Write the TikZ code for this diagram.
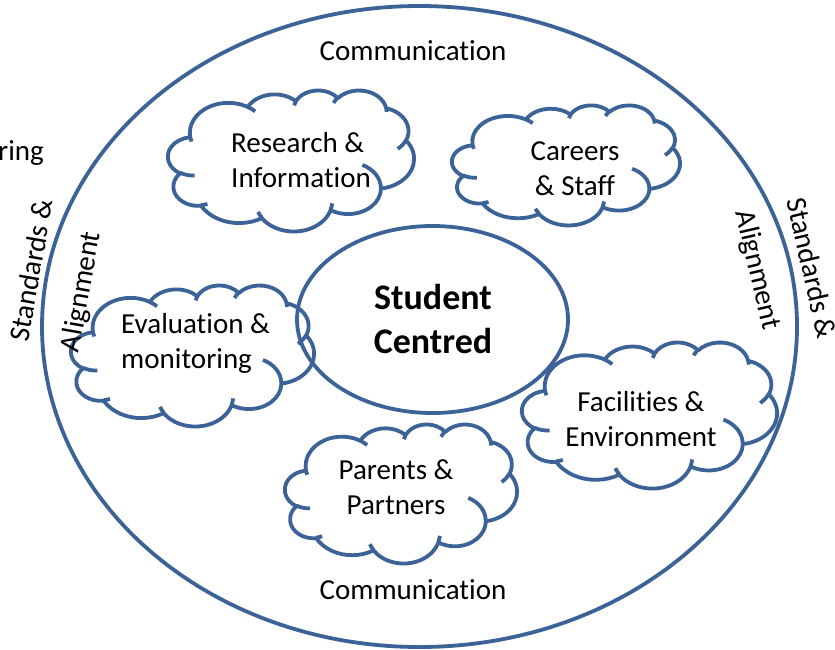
\documentclass[tikz,border=0pt]{standalone}
\usepackage{fontspec}
\setmainfont[Ligatures={NoCommon}]{Carlito}
\usetikzlibrary{shapes.geometric}
\definecolor{edge}{HTML}{3B6397}

% convert an OOXML arcTo (visual angles) into parametric start/end angles
\newcommand\mkarc[5]{%
  \pgfmathsetmacro\cldA{atan2((#2)*sin(#4),(#3)*cos(#4))}%
  \pgfmathsetmacro\cldB{atan2((#2)*sin((#4)+(#5)),(#3)*cos((#4)+(#5)))}%
  \pgfmathsetmacro\cldD{Mod((\cldB)-(\cldA)-(#5)+540,360)-180+(#5)}%
  \pgfmathsetmacro\cldT{(\cldA)+(\cldD)}%
  \expandafter\xdef\csname cldS#1\endcsname{\cldA}%
  \expandafter\xdef\csname cldE#1\endcsname{\cldT}%
}
\newcommand\cldarc[3]{arc[start angle=\csname cldS#1\endcsname, end angle=\csname cldE#1\endcsname, x radius=#2, y radius=#3] }

\tikzset{
  cloudline/.style={draw=edge, line width=3.8pt, line join=round},
  lbl/.style={font=\fontsize{29}{35}\selectfont, align=center, inner sep=0pt},
  lbll/.style={font=\fontsize{29}{35}\selectfont, align=left, inner sep=0pt, anchor=west},
  boldlbl/.style={font=\fontsize{36}{44}\selectfont\bfseries, align=center, inner sep=0pt},
  ring/.style={draw=edge, line width=3.8pt, ellipse, inner sep=0pt}
}
\newcommand\cloudat[4]{%
  \begin{scope}[shift={(#1,#2)}, x=#3pt, y=-#4pt]
    \draw[cloudline] \cloudpath;
  \end{scope}}

\begin{document}
\begin{tikzpicture}[x=1pt, y=-1pt]
% outline arcs
\mkarc{1}{6.753}{9.19}{-190.4874833}{123.7805333}
\mkarc{2}{5.333}{7.267}{-144.1023833}{89.9452333}
\mkarc{3}{4.365}{5.945}{-145.8079167}{99.7230167}
\mkarc{4}{4.857}{6.595}{-130.9860667}{117.2417333}
\mkarc{5}{5.333}{7.273}{-78.7088833}{109.0269167}
\mkarc{6}{6.775}{9.22}{-46.26725}{130.269}
\mkarc{7}{5.785}{7.867}{0.6250167}{114.0333333}
\mkarc{8}{6.752}{9.215}{22.4516}{115.17255}
\mkarc{9}{7.72}{10.543}{66.2426333}{75.7110167}
\mkarc{10}{4.36}{5.918}{-274.9420833}{146.7355667}
\mkarc{11}{4.345}{5.945}{-246.8285}{152.51885}
% inner arcs
\mkarc{12}{4.345}{5.945}{86.742}{26.4295}
\mkarc{13}{4.36}{5.918}{73.61047}{11.44747}
\mkarc{14}{6.752}{9.215}{137.62415}{14.0811}
\mkarc{15}{6.752}{9.215}{6.45327}{15.99835}
\mkarc{16}{5.785}{7.867}{-70.29235}{70.91737}
\mkarc{17}{5.333}{7.273}{30.31803}{27.7515}
\mkarc{18}{4.857}{6.595}{-13.74433}{14.8589}
\mkarc{19}{4.857}{6.595}{-149.18145}{18.19537}
\mkarc{20}{4.365}{5.945}{-163.49427}{17.68635}
\mkarc{21}{6.753}{9.19}{-66.70695}{12.31935}
\mkarc{22}{6.753}{9.19}{157.65435}{11.85817}
\xdef\cloudpath{(3.9,14.37) \cldarc{1}{6.753}{9.19}\cldarc{2}{5.333}{7.267}\cldarc{3}{4.365}{5.945}\cldarc{4}{4.857}{6.595}\cldarc{5}{5.333}{7.273}\cldarc{6}{6.775}{9.22}\cldarc{7}{5.785}{7.867}\cldarc{8}{6.752}{9.215}\cldarc{9}{7.72}{10.543}\cldarc{10}{4.36}{5.918}\cldarc{11}{4.345}{5.945} -- cycle
 (4.693,26.177) \cldarc{12}{4.345}{5.945}
 (6.928,34.899) \cldarc{13}{4.36}{5.918}
 (16.478,39.09) \cldarc{14}{6.752}{9.215}
 (28.827,34.751) \cldarc{15}{6.752}{9.215}
 (34.129,22.954) \cldarc{16}{5.785}{7.867}
 (41.798,15.354) \cldarc{17}{5.333}{7.273}
 (38.324,5.426) \cldarc{18}{4.857}{6.595}
 (29.078,3.952) \cldarc{19}{4.857}{6.595}
 (22.141,4.72) \cldarc{20}{4.365}{5.945}
 (14,5.192) \cldarc{21}{6.753}{9.19}
 (4.127,15.789) \cldarc{22}{6.753}{9.19}}

\useasboundingbox (0,0) rectangle (835,649);
\fill[white] (0,0) rectangle (835,649);

% outer ring and centre
\node[ring, minimum width=755pt, minimum height=641pt] (outer) at (419.5,326.5) {};
\node[ring, minimum width=271pt, minimum height=187pt] (core) at (432.5,319.5) {};
\node[boldlbl] (coretext) at (433,318.5) {Student\\Centred};

% clouds
\cloudat{168}{90}{5.694}{3.264}
\cloudat{452}{105}{5.278}{2.778}
\cloudat{71}{285}{5.625}{3.264}
\cloudat{522}{342}{5.903}{3.380}
\cloudat{285}{424}{5.370}{3.218}

\node[lbll] (research) at (231,160.5) {Research \&\\Information};
\node[lbl] (careers) at (575,169) {Careers\\\& Staff};
\node[lbll] (evaluation) at (121,343.5) {Evaluation \&\\monitoring};
\node[lbl] (facilities) at (641,419.5) {Facilities \&\\Environment};
\node[lbl] (parents) at (396,487) {Parents \&\\Partners};

% ring texts
\node[lbl, anchor=base] (commtop) at (413,60) {Communication};
\node[lbl, anchor=base] (commbot) at (413,599) {Communication};
\node[lbl, anchor=base east] (ring) at (44,160) {ring};
\node[lbl, rotate=80] (stdleft) at (31,270) {Standards \&};
\node[lbl, rotate=80] (alignleft) at (82,292) {Alignment};
\node[lbl, rotate=-77] (stdright) at (812,268) {Standards \&};
\node[lbl, rotate=-77] (alignright) at (757,270) {Alignment};
\end{tikzpicture}
\end{document}
